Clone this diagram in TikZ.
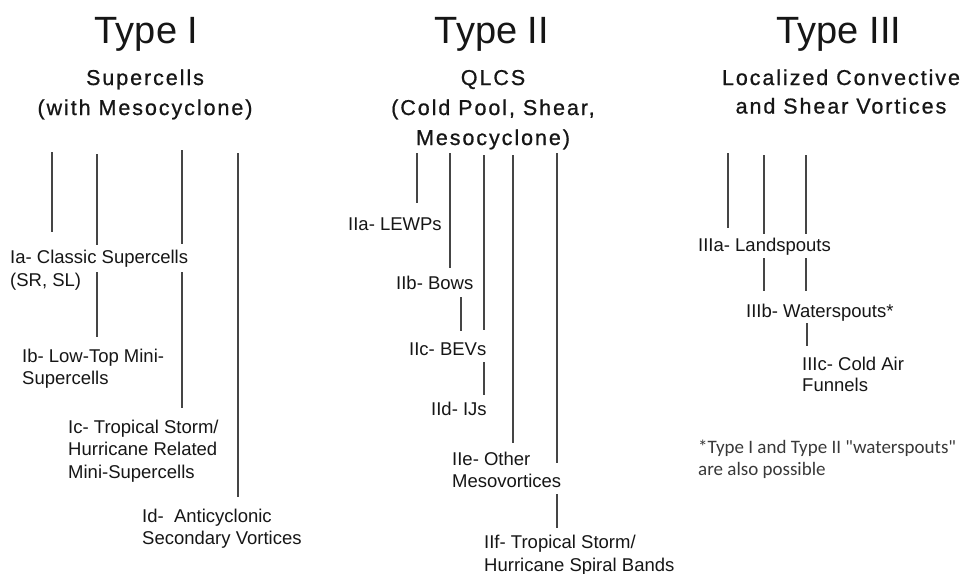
\documentclass[tikz,border=0pt]{standalone}
\usepackage{fontspec}
\setmainfont{Liberation Sans}
\newfontfamily\subfont[LetterSpace=9,FakeBold=0.8]{Liberation Sans}
\newfontfamily\notefont{Carlito}
\definecolor{ink}{HTML}{161616}
\definecolor{linkc}{HTML}{454545}
\tikzset{
  titlebox/.style={anchor=base, inner sep=0, text=ink, font=\fontsize{38}{44}\selectfont},
  subbox/.style={anchor=base, align=center, inner sep=0, text=ink, font=\subfont\fontsize{21.5}{30}\selectfont},
  lab/.style={anchor=base west, align=left, inner sep=0, text=ink, font=\fontsize{18.5}{22.5}\selectfont},
  notebox/.style={anchor=base west, align=left, inner sep=0, text=ink!85, font=\notefont\fontsize{19}{22}\selectfont},
  link/.style={draw=linkc, line width=2pt}
}
\begin{document}
\begin{tikzpicture}[x=1pt,y=-1pt]
\useasboundingbox (0,0) rectangle (961,573);
\fill[white] (0,0) rectangle (961,573);

% titles (multi-line nodes are placed by the baseline of their last line)
\node[titlebox] (t1) at (146.5,43) {Type I};
\node[titlebox] (t2) at (492,43) {Type II};
\node[titlebox] (t3) at (839,43) {Type III};
\node[subbox] (s1) at (145,115) {Supercells\\(with Mesocyclone)};
\node[subbox] (s2) at (493,145) {QLCS\\(Cold Pool, Shear,\\Mesocyclone)};
\node[subbox, font=\subfont\fontsize{21.5}{28.5}\selectfont] (s3) at (841,113.5) {Localized Convective\\and Shear Vortices};

% Type I labels
\node[lab, font=\fontsize{18.5}{23}\selectfont] (Ia) at (10,286) {Ia- Classic Supercells\\(SR, SL)};
\node[lab] (Ib) at (22,384.5) {Ib- Low-Top Mini-\\Supercells};
\node[lab] (Ic) at (68,478) {Ic- Tropical Storm/\\Hurricane Related\\Mini-Supercells};
\node[lab] (Id) at (142,544.5) {Id-\ \ Anticyclonic\\Secondary Vortices};

% Type II labels
\node[lab] (IIa) at (348,230) {IIa- LEWPs};
\node[lab] (IIb) at (396,289) {IIb- Bows};
\node[lab] (IIc) at (409,355) {IIc- BEVs};
\node[lab] (IId) at (431,415) {IId- IJs};
\node[lab] (IIe) at (452,487.5) {IIe- Other\\Mesovortices};
\node[lab] (IIf) at (484,571) {IIf- Tropical Storm/\\Hurricane Spiral Bands};

% Type III labels
\node[lab] (IIIa) at (698,251) {IIIa- Landspouts};
\node[lab] (IIIb) at (746,317) {IIIb- Waterspouts*};
\node[lab, font=\fontsize{18.5}{21}\selectfont] (IIIc) at (802,391) {IIIc- Cold Air\\Funnels};
\node[notebox] (note) at (698,475) {*Type I and Type II "waterspouts"\\are also possible};

% connector end points
\coordinate (a1) at (52,152);  \coordinate (a2) at (52,232);
\coordinate (b1) at (97,154);  \coordinate (b2) at (97,245);
\coordinate (b3) at (97,272);  \coordinate (b4) at (97,337);
\coordinate (c1) at (182,150); \coordinate (c2) at (182,244);
\coordinate (c3) at (182,272); \coordinate (c4) at (182,408);
\coordinate (d1) at (238,153); \coordinate (d2) at (238,497);

\coordinate (e1) at (417,153); \coordinate (e2) at (417,203);
\coordinate (f1) at (450,153); \coordinate (f2) at (450,268);
\coordinate (g1) at (484,155); \coordinate (g2) at (484,330);
\coordinate (h1) at (461,297); \coordinate (h2) at (461,331);
\coordinate (i1) at (484,362); \coordinate (i2) at (484,395);
\coordinate (j1) at (513,155); \coordinate (j2) at (513,443);
\coordinate (k1) at (557,153); \coordinate (k2) at (557,463);
\coordinate (k3) at (557,494); \coordinate (k4) at (557,528);

\coordinate (m1) at (728,153); \coordinate (m2) at (728,228);
\coordinate (n1) at (764,155); \coordinate (n2) at (764,234);
\coordinate (n3) at (764,258); \coordinate (n4) at (764,291);
\coordinate (o1) at (806,155); \coordinate (o2) at (806,234);
\coordinate (o3) at (806,258); \coordinate (o4) at (806,291);
\coordinate (p1) at (807,323); \coordinate (p2) at (807,346);

\draw[link] (a1) -- (a2);
\draw[link] (b1) -- (b2);
\draw[link] (b3) -- (b4);
\draw[link] (c1) -- (c2);
\draw[link] (c3) -- (c4);
\draw[link] (d1) -- (d2);

\draw[link] (e1) -- (e2);
\draw[link] (f1) -- (f2);
\draw[link] (g1) -- (g2);
\draw[link] (h1) -- (h2);
\draw[link] (i1) -- (i2);
\draw[link] (j1) -- (j2);
\draw[link] (k1) -- (k2);
\draw[link] (k3) -- (k4);

\draw[link] (m1) -- (m2);
\draw[link] (n1) -- (n2);
\draw[link] (n3) -- (n4);
\draw[link] (o1) -- (o2);
\draw[link] (o3) -- (o4);
\draw[link] (p1) -- (p2);
\end{tikzpicture}
\end{document}
